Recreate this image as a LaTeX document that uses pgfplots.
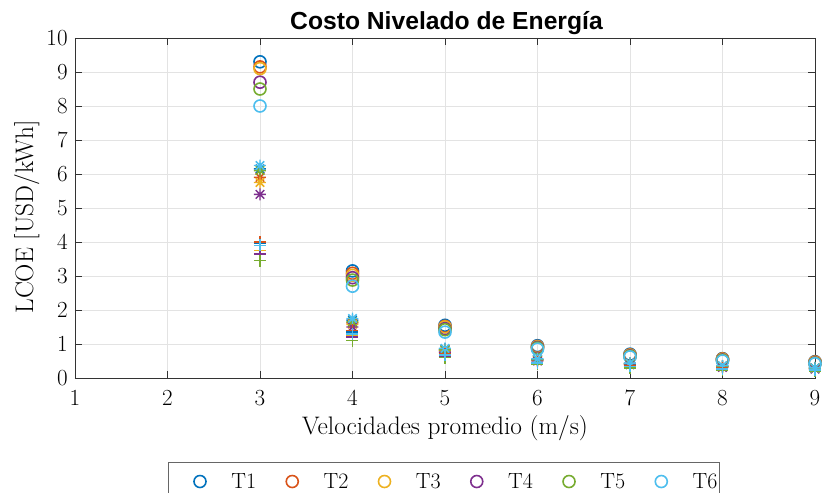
\documentclass[border=0pt]{standalone}
\usepackage{pgfplots}
\usepackage{pgfplotstable}
\pgfplotsset{compat=1.18}
\usepackage{fontspec}
\newfontfamily\titlefont{Liberation Sans}
\definecolor{c1}{rgb}{0,0.447,0.741}
\definecolor{c2}{rgb}{0.85,0.325,0.098}
\definecolor{c3}{rgb}{0.929,0.694,0.125}
\definecolor{c4}{rgb}{0.494,0.184,0.556}
\definecolor{c5}{rgb}{0.466,0.674,0.188}
\definecolor{c6}{rgb}{0.301,0.745,0.933}
\pgfdeclareplotmark{mstar}{%
 \pgfpathmoveto{\pgfqpoint{0pt}{\pgfplotmarksize}}\pgfpathlineto{\pgfqpoint{0pt}{-\pgfplotmarksize}}%
 \pgfpathmoveto{\pgfqpoint{\pgfplotmarksize}{0pt}}\pgfpathlineto{\pgfqpoint{-\pgfplotmarksize}{0pt}}%
 \pgfpathmoveto{\pgfqpoint{.7071\pgfplotmarksize}{.7071\pgfplotmarksize}}\pgfpathlineto{\pgfqpoint{-.7071\pgfplotmarksize}{-.7071\pgfplotmarksize}}%
 \pgfpathmoveto{\pgfqpoint{-.7071\pgfplotmarksize}{.7071\pgfplotmarksize}}\pgfpathlineto{\pgfqpoint{.7071\pgfplotmarksize}{-.7071\pgfplotmarksize}}%
 \pgfusepathqstroke}
\pgfplotstableread{
x  T1   T2   T3   T4   T5   T6
3  9.30 9.15 9.10 8.70 8.50 8.00
4  3.15 3.08 3.02 2.95 2.88 2.70
5  1.55 1.52 1.50 1.45 1.42 1.35
6  0.95 0.93 0.92 0.90 0.88 0.85
7  0.70 0.68 0.67 0.65 0.64 0.62
8  0.57 0.56 0.55 0.53 0.52 0.50
9  0.48 0.47 0.46 0.44 0.43 0.42
}\tabO
\pgfplotstableread{
x  T1   T2   T3   T4   T5   T6
3  6.15 5.90 5.75 5.40 6.10 6.25
4  1.70 1.62 1.58 1.50 1.65 1.75
5  0.85 0.82 0.80 0.76 0.83 0.87
6  0.55 0.53 0.52 0.50 0.54 0.56
7  0.43 0.42 0.41 0.39 0.42 0.44
8  0.35 0.34 0.33 0.31 0.34 0.36
9  0.30 0.29 0.28 0.26 0.29 0.30
}\tabS
\pgfplotstableread{
x  T1   T2   T3   T4   T5   T6
3  3.95 4.00 3.75 3.65 3.45 3.90
4  1.35 1.40 1.25 1.20 1.10 1.30
5  0.70 0.72 0.66 0.64 0.60 0.68
6  0.45 0.46 0.43 0.42 0.40 0.44
7  0.35 0.36 0.33 0.32 0.30 0.34
8  0.28 0.29 0.26 0.25 0.24 0.27
9  0.24 0.24 0.22 0.21 0.20 0.23
}\tabP
\begin{document}
\begin{tikzpicture}
\useasboundingbox (-56.25pt,-86.25pt) rectangle (560.25pt,283.5pt);
\begin{axis}[
 width=555pt, height=255pt, scale only axis,
 at={(0,0)}, anchor=south west,
 xmin=1, xmax=9, ymin=0, ymax=10,
 xtick={1,...,9}, ytick={0,...,10},
 grid=major, major grid style={black!11, line width=0.5pt},
 axis line style={black!80, line width=0.6pt},
 tick style={black!80, line width=0.6pt},
 tick align=inside, major tick length=5.5pt,
 ticklabel style={font=\fontsize{16.5}{18}\selectfont},
 xticklabel style={yshift=-6pt},
 yticklabel style={xshift=-2pt},
 xlabel={Velocidades promedio (m/s)}, ylabel={LCOE [USD/kWh]},
 label style={font=\fontsize{19}{22}\selectfont},
 xlabel style={at={(axis description cs:0.5,-0.147)}, anchor=center},
 ylabel style={at={(axis description cs:-0.065,0.474)}, anchor=center},
 title={Costo Nivelado de Energía},
 title style={at={(axis description cs:0.502,1.019)}, anchor=center, font=\titlefont\bfseries\fontsize{18.5}{20}\selectfont},
 only marks,
 legend columns=6,
 legend style={at={(axis description cs:0.1262,-0.247)}, anchor=north west, draw=black!60, line width=0.6pt, inner xsep=1.5pt, inner ysep=6pt, font=\fontsize{16.5}{18}\selectfont, nodes={inner xsep=0pt}, /tikz/every odd column/.append style={column sep=0pt}, /tikz/every even column/.append style={column sep=5.15pt}},
 legend image code/.code={\path (0pt,0pt) (44.25pt,0pt); \draw[#1] plot coordinates {(21.3pt,0pt)};},
]
\addplot[c1, mark=o, mark size=4.5pt, line width=1.2pt] table[x=x,y=T1]{\tabO}; \addlegendentry{T1}
\addplot[c2, mark=o, mark size=4.5pt, line width=1.2pt] table[x=x,y=T2]{\tabO}; \addlegendentry{T2}
\addplot[c3, mark=o, mark size=4.5pt, line width=1.2pt] table[x=x,y=T3]{\tabO}; \addlegendentry{T3}
\addplot[c4, mark=o, mark size=4.5pt, line width=1.2pt] table[x=x,y=T4]{\tabO}; \addlegendentry{T4}
\addplot[c5, mark=o, mark size=4.5pt, line width=1.2pt] table[x=x,y=T5]{\tabO}; \addlegendentry{T5}
\addplot[c6, mark=o, mark size=4.5pt, line width=1.2pt] table[x=x,y=T6]{\tabO}; \addlegendentry{T6}
\addplot[forget plot, c1, mark=mstar, mark size=4.5pt, line width=1.1pt] table[x=x,y=T1]{\tabS};
\addplot[forget plot, c2, mark=mstar, mark size=4.5pt, line width=1.1pt] table[x=x,y=T2]{\tabS};
\addplot[forget plot, c3, mark=mstar, mark size=4.5pt, line width=1.1pt] table[x=x,y=T3]{\tabS};
\addplot[forget plot, c4, mark=mstar, mark size=4.5pt, line width=1.1pt] table[x=x,y=T4]{\tabS};
\addplot[forget plot, c5, mark=mstar, mark size=4.5pt, line width=1.1pt] table[x=x,y=T5]{\tabS};
\addplot[forget plot, c6, mark=mstar, mark size=4.5pt, line width=1.1pt] table[x=x,y=T6]{\tabS};
\addplot[forget plot, c1, mark=+, mark size=4.5pt, line width=1.1pt] table[x=x,y=T1]{\tabP};
\addplot[forget plot, c2, mark=+, mark size=4.5pt, line width=1.1pt] table[x=x,y=T2]{\tabP};
\addplot[forget plot, c3, mark=+, mark size=4.5pt, line width=1.1pt] table[x=x,y=T3]{\tabP};
\addplot[forget plot, c4, mark=+, mark size=4.5pt, line width=1.1pt] table[x=x,y=T4]{\tabP};
\addplot[forget plot, c5, mark=+, mark size=4.5pt, line width=1.1pt] table[x=x,y=T5]{\tabP};
\addplot[forget plot, c6, mark=+, mark size=4.5pt, line width=1.1pt] table[x=x,y=T6]{\tabP};
\end{axis}
\end{tikzpicture}
\end{document}
